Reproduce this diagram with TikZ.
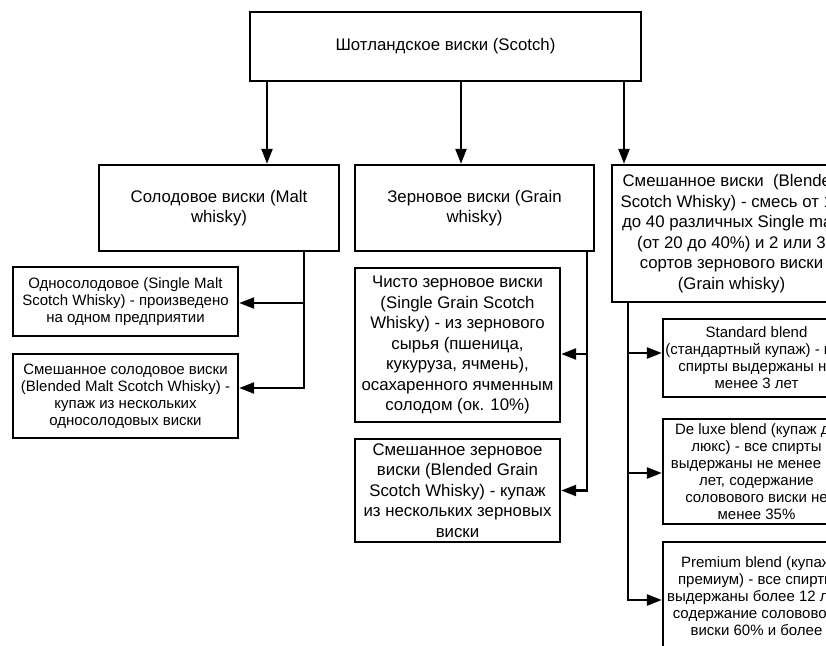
\documentclass[tikz,border=0pt]{standalone}
\usepackage{fontspec}
\setmainfont{Liberation Sans}
\usetikzlibrary{arrows.meta}
\begin{document}
\begin{tikzpicture}[x=1pt,y=-1pt,
  box/.style={draw, line width=2.4pt, inner sep=0pt, align=center},
  big/.style={font=\fontsize{16.8}{20.5}\selectfont},
  small/.style={font=\fontsize{15}{17}\selectfont},
  arr/.style={line width=2.4pt, -{Triangle[length=15pt,width=11pt]}}]
\useasboundingbox (0,0) rectangle (826,645);
\clip (0,0) rectangle (826,645);
% top
\node[box,big,minimum width=391pt,minimum height=69pt] (top) at (445.5,46.5) {Шотландское виски (Scotch)};
% level 2
\node[box,big,minimum width=240pt,minimum height=86pt] (malt) at (219,208) {Солодовое виски (Malt\\whisky)};
\node[box,big,minimum width=239pt,minimum height=86pt] (grain) at (474.5,208) {Зерновое виски (Grain\\whisky)};
\node[box,big,minimum width=239pt,minimum height=137pt] (blend) at (731.5,233.5) {Смешанное виски\ \ (Blended\\Scotch Whisky) - смесь от 15\\до 40 различных Single malt\\(от 20 до 40\%) и 2 или 3\\сортов зернового виски\\(Grain whisky)};
% malt children
\node[box,small,minimum width=225pt,minimum height=69pt] (sm) at (125.5,301.5) {Односолодовое (Single Malt\\Scotch Whisky) - произведено\\на одном предприятии};
\node[box,small,minimum width=225pt,minimum height=84pt] (bm) at (125.5,396) {Смешанное солодовое виски\\(Blended Malt Scotch Whisky) -\\купаж из нескольких\\односолодовых виски};
% grain children
\node[box,big,minimum width=205pt,minimum height=154pt] (sg) at (457.5,345) {Чисто зерновое виски\\(Single Grain Scotch\\Whisky) - из зернового\\сырья (пшеница,\\кукуруза, ячмень),\\осахаренного ячменным\\солодом (ок. 10\%)};
\node[box,big,minimum width=205pt,minimum height=103pt] (bg) at (457.5,490.5) {Смешанное зерновое\\виски (Blended Grain\\Scotch Whisky) - купаж\\из нескольких зерновых\\виски};
% blend children
\node[box,small,minimum width=187pt,minimum height=78pt] (std) at (756.5,358) {Standard blend\\(стандартный купаж) - все\\спирты выдержаны не\\менее 3 лет};
\node[box,small,minimum width=187pt,minimum height=105pt] (dl) at (756.5,471.5) {De luxe blend (купаж де\\люкс) - все спирты\\выдержаны не менее 12\\лет, содержание\\соловового виски не\\менее 35\%};
\node[box,small,minimum width=187pt,minimum height=108pt] (pr) at (756.5,596) {Premium blend (купаж\\премиум) - все спирты\\выдержаны более 12 лет,\\содержание соловового\\виски 60\% и более};
% connector x positions
\coordinate (a1) at (267,0);
\coordinate (a2) at (461,0);
\coordinate (a3) at (624,0);
\coordinate (mv) at (304,0);
\coordinate (gv) at (587,0);
\coordinate (bv) at (628,0);
% top arrows
\draw[arr] (top.south -| a1) -- (malt.north -| a1);
\draw[arr] (top.south -| a2) -- (grain.north -| a2);
\draw[arr] (top.south -| a3) -- (blend.north -| a3);
% malt branch
\draw[arr] (malt.south -| mv) |- ([yshift=-1.5pt]sm.east);
\draw[arr] (malt.south -| mv) |- ([yshift=8pt]bm.east);
% grain branch
\draw[arr] (grain.south -| gv) |- ([yshift=-9pt]sg.east);
\draw[arr] (grain.south -| gv) |- (bg.east);
% blend branch
\draw[arr] (blend.south -| bv) |- ([yshift=5pt]std.west);
\draw[arr] (blend.south -| bv) |- ([yshift=-1.5pt]dl.west);
\draw[arr] (blend.south -| bv) |- ([yshift=-4pt]pr.west);
\end{tikzpicture}
\end{document}
